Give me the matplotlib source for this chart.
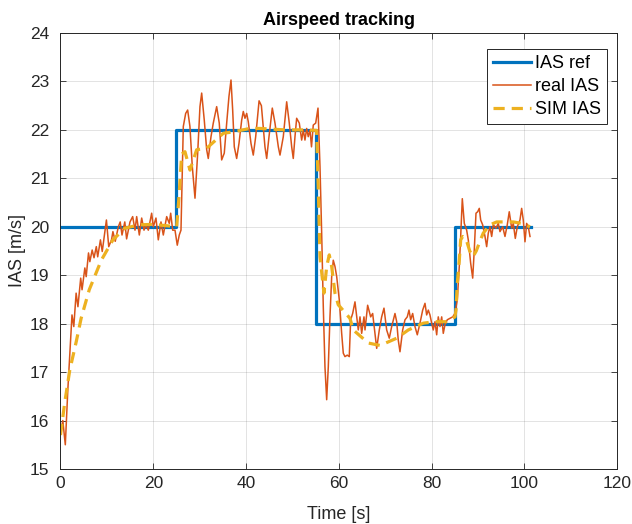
import matplotlib
matplotlib.use("Agg")
import matplotlib.pyplot as plt

# reference command (step profile)
ref_t = [0, 25, 25, 55, 55, 85, 85, 101.5]
ref_ias = [20, 20, 22, 22, 18, 18, 20, 20]

# measured airspeed
real_t = [
    0.0, 0.5, 1.04, 1.58, 2.18, 2.48, 2.87, 3.37, 3.76, 4.36, 4.65, 5.25, 5.54,
    6.04, 6.33, 6.83, 7.23, 7.72, 8.02, 8.61, 9.0, 9.9, 10.4, 11.0, 11.3, 11.8,
    12.47, 12.87, 13.26, 13.86, 14.25, 14.98, 15.56, 16.06, 16.42, 16.99, 17.5,
    18.0, 18.43, 18.93, 19.65, 20.0, 20.58, 21.08, 21.66, 22.16, 22.89, 23.45,
    23.75, 24.18, 24.68, 25.17, 25.6, 25.97, 26.25, 26.47, 26.98, 27.41, 27.9,
    28.41, 28.99, 29.57, 30.06, 30.43, 30.99, 31.51, 31.85, 32.44, 32.93, 33.66,
    34.22, 34.74, 35.3, 35.82, 36.31, 36.75, 37.11, 37.46, 37.97, 38.47, 39.05,
    39.4, 39.76, 40.13, 40.47, 41.06, 41.55, 42.07, 42.8, 43.3, 44.07, 44.44,
    44.94, 45.65, 46.23, 46.95, 47.31, 48.02, 48.75, 49.31, 49.83, 50.17, 50.54,
    50.9, 51.47, 51.98, 52.33, 52.69, 53.06, 53.4, 53.77, 54.1, 54.48, 55.0,
    55.5, 55.93, 56.29, 56.64, 57.0, 57.37, 57.72, 58.08, 58.45, 58.79, 59.16,
    59.53, 60.09, 60.6, 60.95, 61.31, 61.81, 62.24, 62.54, 62.97, 63.47, 63.84,
    64.18, 64.55, 64.91, 65.41, 65.63, 66.2, 66.85, 67.28, 67.78, 68.15, 68.71,
    69.22, 69.72, 70.3, 70.86, 71.38, 72.09, 72.46, 72.8, 73.17, 73.75, 74.25,
    74.74, 75.11, 75.47, 75.9, 76.4, 76.9, 77.48, 78.06, 78.56, 78.92, 79.27,
    79.63, 80.0, 80.34, 80.71, 81.08, 81.42, 81.79, 82.16, 82.5, 82.87, 83.36,
    83.94, 84.53, 85.02, 85.52, 85.95, 86.25, 86.6, 87.03, 87.54, 87.89, 88.4,
    88.84, 89.18, 89.55, 89.91, 90.26, 90.56, 90.99, 91.49, 91.85, 92.2, 92.56,
    92.93, 93.28, 93.86, 94.35, 94.72, 95.3, 95.8, 96.29, 96.72, 97.24, 97.59,
    98.02, 98.45, 99.03, 99.39, 99.74, 100.11, 100.47, 100.82, 101.19,
]
real_ias = [
    15.74, 16.0, 15.5, 16.63, 17.66, 18.18, 17.94, 18.63, 18.35, 18.94, 18.7,
    19.15, 18.97, 19.46, 19.28, 19.52, 19.36, 19.59, 19.38, 19.73, 19.49, 20.14,
    19.59, 19.73, 19.9, 19.7, 20.0, 20.1, 19.83, 20.1, 19.75, 20.1, 20.21, 19.93,
    20.21, 19.83, 20.18, 19.93, 20.04, 19.93, 20.28, 20.0, 20.18, 19.73, 20.1,
    19.83, 20.21, 20.07, 20.28, 19.93, 19.93, 19.62, 19.83, 19.93, 21.17, 22.07,
    22.34, 22.41, 22.07, 21.24, 20.59, 21.52, 22.48, 22.76, 22.2, 21.59, 21.41,
    21.86, 22.14, 22.48, 22.14, 21.38, 21.52, 22.14, 22.69, 23.03, 22.41, 21.65,
    21.41, 21.72, 22.2, 22.38, 22.24, 22.34, 22.17, 21.72, 21.48, 21.86, 22.6,
    22.5, 21.65, 21.41, 21.86, 22.45, 22.14, 21.65, 21.48, 21.86, 22.58, 22.14,
    21.65, 21.41, 21.86, 22.24, 22.14, 21.79, 22.0, 21.79, 22.03, 21.86, 22.0,
    21.65, 22.1, 22.14, 22.45, 21.24, 19.87, 18.35, 17.11, 16.43, 17.11, 18.14,
    18.97, 19.31, 19.18, 18.97, 18.49, 17.8, 17.39, 17.32, 17.35, 17.32, 18.08,
    18.21, 18.45, 18.14, 17.87, 18.14, 17.8, 18.14, 17.87, 18.38, 18.14, 18.21,
    17.8, 17.49, 17.87, 18.14, 18.32, 17.87, 17.7, 17.94, 18.21, 18.04, 17.66,
    17.42, 17.87, 18.08, 18.14, 18.28, 18.08, 18.21, 17.94, 17.77, 18.01, 18.28,
    18.42, 18.18, 18.28, 18.18, 18.01, 17.87, 18.04, 17.77, 18.14, 17.94, 18.14,
    17.8, 17.98, 18.08, 18.11, 18.14, 18.21, 18.49, 19.18, 19.8, 20.58, 20.07,
    19.93, 19.73, 19.25, 18.94, 19.52, 20.28, 20.31, 20.38, 20.14, 20.04, 19.8,
    19.59, 19.87, 20.0, 19.8, 20.04, 19.97, 20.07, 19.9, 20.0, 19.8, 20.04,
    20.31, 19.97, 20.07, 19.76, 20.0, 20.14, 20.38, 20.14, 19.69, 20.07, 20.0,
    19.8,
]

# simulated airspeed
sim_t = [
    0.0, 0.9, 2.0, 3.4, 4.45, 6.2, 8.8, 11.3, 13.85, 17.0, 20.0, 23.0, 25.04,
    25.54, 26.12, 26.83, 27.91, 29.35, 31.5, 35.09, 37.24, 40.84, 43.0, 46.6,
    48.38, 52.33, 55.2, 55.56, 55.93, 56.64, 56.79, 57.37, 57.93, 58.45, 59.16,
    59.87, 62.39, 63.1, 66.34, 68.9, 72.46, 74.96, 78.2, 80.71, 83.23, 85.02,
    85.24, 85.52, 85.95, 86.25, 86.68, 87.4, 88.2, 88.9, 89.6, 90.4, 91.12,
    92.56, 94.0, 97.59, 99.39, 101.19,
]
sim_ias = [
    15.7, 16.36, 17.04, 17.63, 18.11, 18.7, 19.31, 19.73, 19.97, 20.04, 20.05,
    20.02, 20.0, 20.62, 21.5, 21.55, 21.17, 21.59, 21.62, 21.93, 21.96, 22.03,
    22.03, 22.01, 22.0, 22.0, 21.99, 20.8, 19.38, 18.76, 18.63, 19.18, 19.42,
    19.18, 18.63, 18.39, 18.11, 17.87, 17.6, 17.55, 17.7, 17.87, 18.01, 18.04,
    18.04, 18.14, 18.28, 18.83, 19.31, 19.73, 19.8, 19.75, 19.5, 19.38, 19.5,
    19.7, 19.87, 20.04, 20.1, 20.1, 20.07, 20.0,
]

plt.rcParams["font.family"] = ["Liberation Sans", "DejaVu Sans"]

fig = plt.figure(figsize=(6.32, 5.24), dpi=100)
ax = fig.add_axes([0.0957, 0.105, 0.881, 0.832])

ax.plot(ref_t, ref_ias, color="#0072BD", linewidth=2.3, label="IAS ref")
ax.plot(real_t, real_ias, color="#D95319", linewidth=1.1, label="real IAS")
ax.plot(sim_t, sim_ias, color="#EDB120", linewidth=2.3,
        dashes=(3.5, 2.2), label="SIM IAS")

ax.set_xlim(0, 120)
ax.set_ylim(15, 24)
ax.set_xticks(range(0, 121, 20))
ax.set_yticks(range(15, 25))

ax.grid(True, color="#262626", alpha=0.15, linewidth=0.6)
ax.tick_params(direction="in", top=True, right=True, length=4,
               width=0.6, colors="#262626", labelsize=12.5,
               labelcolor="#262626")
ax.tick_params(axis="y", pad=8)
ax.tick_params(axis="x", pad=5)
for side in ax.spines.values():
    side.set_color("#262626")
    side.set_linewidth(0.7)

ax.set_xlabel("Time [s]", fontsize=13, color="#262626", labelpad=11)
ax.set_ylabel("IAS [m/s]", fontsize=13, color="#262626", labelpad=3)
ax.set_title("Airspeed tracking", fontsize=13, fontweight="bold", pad=6)

leg = ax.legend(loc="upper left", bbox_to_anchor=(0.766, 0.963),
                fontsize=13, fancybox=False, framealpha=1,
                edgecolor="#262626", handlelength=2.1,
                borderpad=0.33, labelspacing=0.33, handletextpad=0.25,
                borderaxespad=0.0)
leg.get_frame().set_linewidth(0.7)

fig.savefig("out.png", dpi=100)
plt.close(fig)
